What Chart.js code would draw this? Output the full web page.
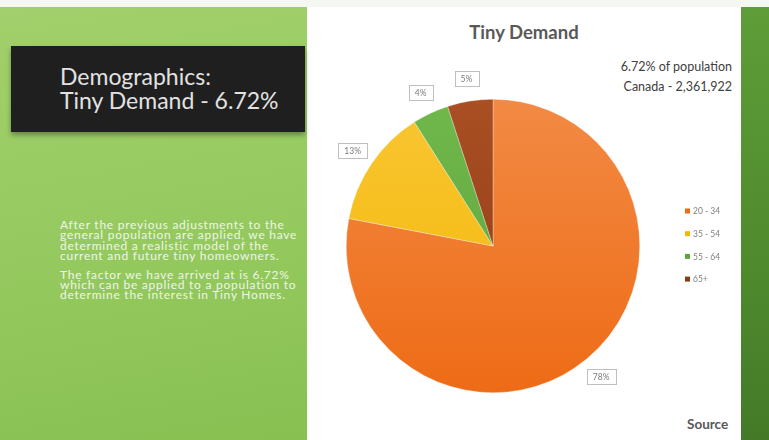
<!DOCTYPE html>
<html>
<head>
<meta charset="utf-8">
<script src="https://cdn.jsdelivr.net/npm/chart.js@4/dist/chart.umd.min.js"></script>
<style>
  html,body{margin:0;padding:0;}
  body{width:769px;height:440px;position:relative;overflow:hidden;background:#f5f7f2;font-family:Lato,"Open Sans",sans-serif;}
  #left{position:absolute;left:0;top:7px;width:307px;height:433px;background:linear-gradient(170deg,#a2d06c 0%,#96ca60 50%,#88c052 100%);}
  #panel{position:absolute;left:307px;top:7px;width:434px;height:433px;background:#ffffff;}
  #right{position:absolute;left:741px;top:7px;width:28px;height:433px;background:linear-gradient(180deg,#5e9d38 0%,#4f8a2e 60%,#447a27 100%);}
  #box{position:absolute;left:11px;top:46px;width:294px;height:86px;background:#1f1f1f;box-shadow:0 3px 5px rgba(0,0,0,0.35);}
  #boxtxt{position:absolute;left:60px;top:64px;color:#e2e2e2;font-size:23px;line-height:24px;white-space:nowrap;}
  #body{position:absolute;left:60px;top:220px;color:#eef6e6;font-size:12px;letter-spacing:0.75px;line-height:10.4px;white-space:nowrap;}
  #body p{margin:0 0 8px 0;}
  #title{position:absolute;left:458px;top:21px;width:132px;text-align:center;color:#595959;font-weight:bold;font-size:18.5px;white-space:nowrap;}
  #note{position:absolute;right:37px;top:57px;text-align:right;color:#404040;font-size:12.5px;line-height:20px;white-space:nowrap;}
  #source{position:absolute;left:687px;top:416px;color:#595959;font-weight:bold;font-size:13.5px;}
  #c{position:absolute;left:0;top:0;}
</style>
</head>
<body>
<div id="left"></div>
<div id="panel"></div>
<div id="right"></div>
<div id="box"></div>
<div id="boxtxt">Demographics:<br>Tiny Demand - 6.72%</div>
<div id="body">
  <p>After the previous adjustments to the<br>general population are applied, we have<br>determined a realistic model of the<br>current and future tiny homeowners.</p>
  <p>The factor we have arrived at is 6.72%<br>which can be applied to a population to<br>determine the interest in Tiny Homes.</p>
</div>
<div id="title">Tiny Demand</div>
<div id="note">6.72% of population<br>Canada - 2,361,922</div>
<div id="source">Source</div>
<canvas id="c" width="769" height="440"></canvas>
<script>
const categories = ["20 - 34", "35 - 54", "55 - 64", "65+"];
const shares = [78, 13, 4, 5];
const sliceLabels = ["78%", "13%", "4%", "5%"];
const colorsTop = ["#f28a44", "#f9c633", "#70b74c", "#aa4f24"];
const colorsBottom = ["#ee6b16", "#f3b705", "#5ca53a", "#8e3911"];

function grad(ctx, i){
  const chart = ctx.chart;
  const a = chart.chartArea;
  if(!a) return colorsTop[i];
  const g = chart.ctx.createLinearGradient(0, a.top, 0, a.bottom);
  g.addColorStop(0, colorsTop[i]);
  g.addColorStop(1, colorsBottom[i]);
  return g;
}

const labelPlugin = {
  id: 'sliceLabels',
  afterDatasetsDraw(chart){
    const ctx = chart.ctx;
    const meta = chart.getDatasetMeta(0);
    ctx.save();
    ctx.font = '8.5px Lato, sans-serif';
    ctx.textAlign = 'center';
    ctx.textBaseline = 'middle';
    meta.data.forEach((arc, i) => {
      const p = arc.getProps(['x','y','startAngle','endAngle','outerRadius'], true);
      const mid = (p.startAngle + p.endAngle) / 2;
      const r = p.outerRadius + 23;
      const cx = p.x + Math.cos(mid) * r;
      const cy = p.y + Math.sin(mid) * r;
      const txt = sliceLabels[i];
      const w = ctx.measureText(txt).width + 12;
      const h = 15;
      ctx.fillStyle = '#ffffff';
      ctx.fillRect(cx - w/2, cy - h/2, w, h);
      ctx.strokeStyle = '#bfbfbf';
      ctx.lineWidth = 1;
      ctx.strokeRect(Math.round(cx - w/2) + 0.5, Math.round(cy - h/2) + 0.5, Math.round(w), h);
      ctx.fillStyle = '#7a7a7a';
      ctx.fillText(txt, cx, cy + 0.5);
    });
    ctx.restore();
  }
};

const legendPlugin = {
  id: 'sideLegend',
  afterDraw(chart){
    const ctx = chart.ctx;
    const a = chart.chartArea;
    const x0 = a.right + 45;
    const y0 = a.top + 112;
    const step = 22.7;
    ctx.save();
    ctx.font = '8.5px Lato, sans-serif';
    ctx.textBaseline = 'middle';
    ctx.textAlign = 'left';
    chart.data.labels.forEach((lab, i) => {
      const y = y0 + i * step;
      ctx.fillStyle = colorsBottom[i];
      ctx.fillRect(x0, y - 2.5, 5, 5);
      ctx.fillStyle = '#7f7f7f';
      ctx.fillText(lab, x0 + 8, y + 0.5);
    });
    ctx.restore();
  }
};

new Chart(document.getElementById('c'), {
  type: 'pie',
  data: {
    labels: categories,
    datasets: [{
      data: shares,
      backgroundColor: (ctx) => grad(ctx, ctx.dataIndex),
      borderColor: 'rgba(255,255,255,0.6)',
      borderWidth: 0.5
    }]
  },
  options: {
    responsive: false,
    animation: false,
    layout: { padding: { left: 346, right: 129, top: 99, bottom: 47 } },
    plugins: {
      legend: { display: false },
      tooltip: { enabled: false },
      title: { display: false }
    }
  },
  plugins: [labelPlugin, legendPlugin]
});
</script>
</body>
</html>
